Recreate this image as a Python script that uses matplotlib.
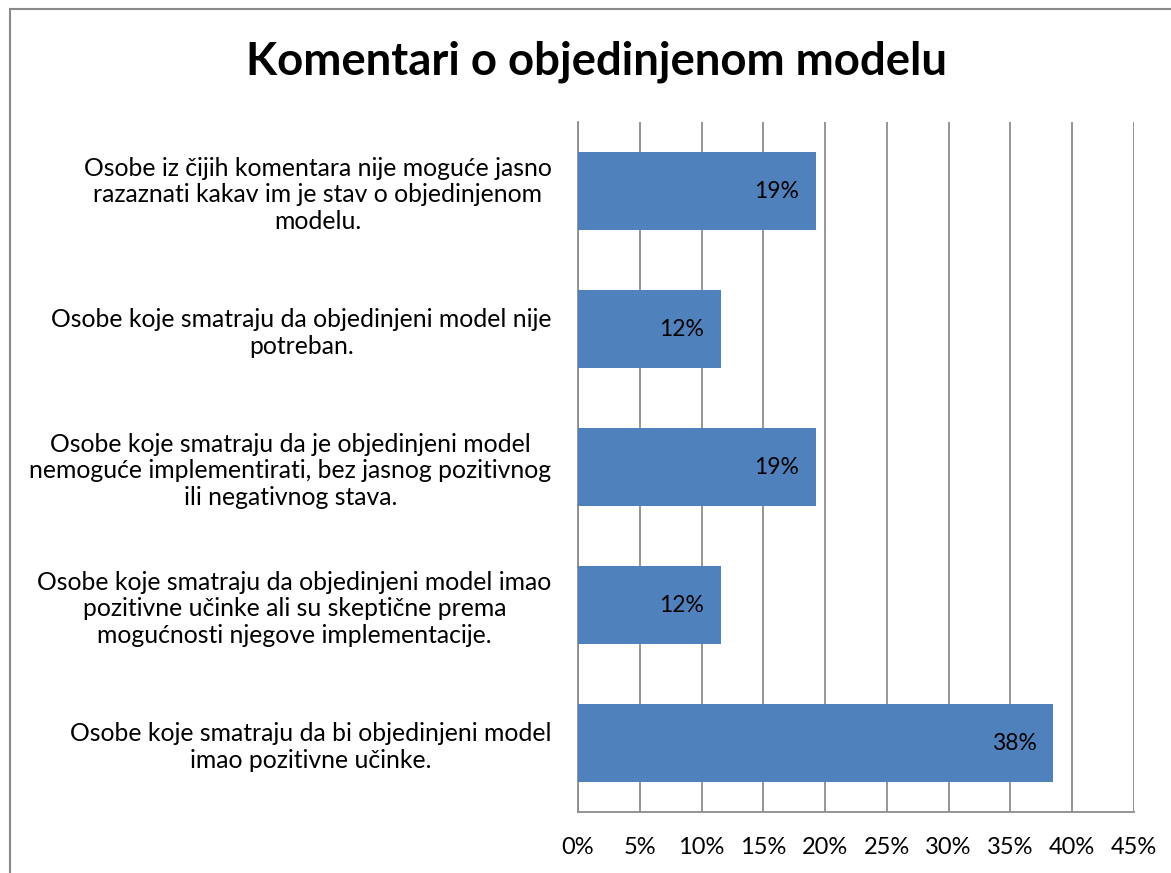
import matplotlib
matplotlib.use("Agg")
import matplotlib.pyplot as plt
from matplotlib.patches import Rectangle
from matplotlib.ticker import MultipleLocator, PercentFormatter

plt.rcParams['font.family'] = ['Lato', 'DejaVu Sans']

title = "Komentari o objedinjenom modelu"
categories = [
    "Osobe iz čijih komentara nije moguće jasno\nrazaznati kakav im je stav o objedinjenom\nmodelu.",
    "Osobe koje smatraju da objedinjeni model nije\npotreban.",
    "Osobe koje smatraju da je objedinjeni model\nnemoguće implementirati, bez jasnog pozitivnog\nili negativnog stava.",
    "Osobe koje smatraju da objedinjeni model imao\npozitivne učinke ali su skeptične prema\nmogućnosti njegove implementacije.",
    "Osobe koje smatraju da bi objedinjeni model\nimao pozitivne učinke.",
]
shares = [19.23, 11.54, 19.23, 11.54, 38.46]

bar_color = "#4F81BD"
grid_color = "#8C8C8C"

fig = plt.figure(figsize=(11.71, 8.73), dpi=100)
W, H = 1171, 873
ax = fig.add_axes([578 / W, 1 - 812 / H, (1134 - 578) / W, (812 - 122) / H])

pos = list(range(len(categories)))
ax.barh(pos, shares, height=0.565, color=bar_color, zorder=3)
for y, v in zip(pos, shares):
    ax.annotate(f"{v:.0f}%", xy=(v, y), xytext=(-12, 0), textcoords="offset points",
                ha="right", va="center", fontsize=16.5, color="black", zorder=4)

ax.set_xlim(0, 45)
ax.set_ylim(len(categories) - 0.5, -0.5)
ax.xaxis.set_major_locator(MultipleLocator(5))
ax.xaxis.set_major_formatter(PercentFormatter(decimals=0))
ax.grid(axis="x", color=grid_color, linewidth=1.3, zorder=0)
ax.set_yticks(pos)
ax.set_yticklabels(categories, fontsize=17.8, multialignment="center")
ax.tick_params(axis="y", length=0, pad=19)
ax.tick_params(axis="x", length=0, pad=18, labelsize=17)
for side in ("top", "right"):
    ax.spines[side].set_visible(False)
for side in ("left", "bottom"):
    ax.spines[side].set_color(grid_color)
    ax.spines[side].set_linewidth(1.3)

fig.text(597 / W, 1 - 62 / H, title, ha="center", va="center",
         fontsize=32.8, fontweight="bold")

# chart frame
fig.patches.append(Rectangle((9.5 / W, -0.1), 1.2, 1 - 9.5 / H + 0.1,
                             transform=fig.transFigure, fill=False,
                             edgecolor="#898989", linewidth=1.5))

fig.savefig("out.png", dpi=100)
